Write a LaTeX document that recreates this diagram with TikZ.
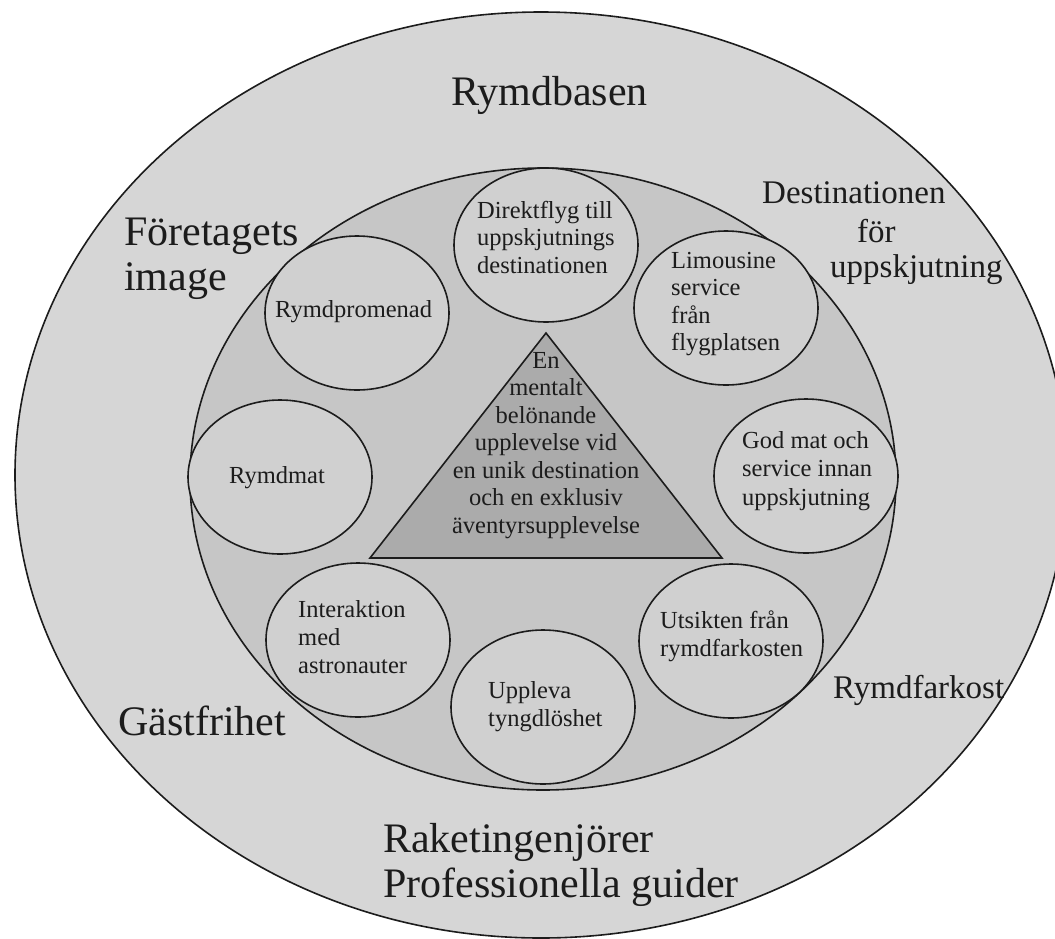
\documentclass[tikz,border=0pt]{standalone}
\usepackage{fontspec}
\setmainfont{Liberation Serif}
\usetikzlibrary{shapes.geometric}

% stacked lines, baseline of the box = baseline of the first line
\newcommand\leftlines[2]{\vtop{\baselineskip=#1\lineskiplimit=-100pt\halign{##\hfil\cr#2\crcr}}}
\newcommand\midlines[2]{\vtop{\baselineskip=#1\lineskiplimit=-100pt\halign{\hfil##\hfil\cr#2\crcr}}}

\definecolor{ringgray}{HTML}{D6D6D6}
\definecolor{coregray}{HTML}{C6C6C6}
\definecolor{bubgray}{HTML}{D0D0D0}
\definecolor{peakgray}{HTML}{ABABAB}
\definecolor{ink}{HTML}{1C1C1C}

\tikzset{
  outline/.style={draw=ink, line width=1.6pt},
  bub/.style={ellipse, outline, fill=bubgray, inner sep=0pt,
              minimum width=184pt, minimum height=154pt},
  biglabel/.style={inner sep=0pt, text=ink, font=\fontsize{42}{45}\selectfont, anchor=base west},
  midlabel/.style={inner sep=0pt, text=ink, font=\fontsize{33}{37}\selectfont, anchor=base west},
  smalllabel/.style={inner sep=0pt, text=ink, font=\fontsize{24.5}{27.5}\selectfont, anchor=base west},
}

\begin{document}
\begin{tikzpicture}[x=1pt, y=-1pt]
\useasboundingbox (0,0) rectangle (1055,938);
\clip (0,0) rectangle (1055,938);
\fill[white] (0,0) rectangle (1055,938);

% outer ring and inner core
\node[ellipse, outline, fill=ringgray, inner sep=0pt,
      minimum width=1052pt, minimum height=926pt] (outer) at (541,475) {};
\node[ellipse, outline, fill=coregray, inner sep=0pt,
      minimum width=706pt, minimum height=622pt] (core) at (543,479) {};

% central triangle
\coordinate (apex) at (546,333);
\coordinate (bl) at (370,558);
\coordinate (br) at (722,558);
\draw[outline, fill=peakgray, line join=miter] (apex) -- (br) -- (bl) -- cycle;

% ring of elements
\node[bub] (direkt)  at (546,245) {};
\node[bub] (limo)    at (726,308) {};
\node[bub] (promen)  at (357,313) {};
\node[bub] (mat)     at (280,477) {};
\node[bub] (godmat)  at (806,476) {};
\node[bub] (inter)   at (358,640) {};
\node[bub] (utsikt)  at (731,641) {};
\node[bub] (uppleva) at (543,707) {};

% texts inside the elements
\node[smalllabel] (tdirekt)  at (477,218) {\leftlines{27.5pt}{Direktflyg till\cr uppskjutnings\cr destinationen}};
\node[smalllabel] (tlimo)    at (671,268) {\leftlines{27.5pt}{Limousine\cr service\cr från\cr flygplatsen}};
\node[smalllabel] (tpromen)  at (275,317) {Rymdpromenad};
\node[smalllabel] (tmat)     at (229,483) {Rymdmat};
\node[smalllabel] (tgodmat)  at (742,448) {\leftlines{28.5pt}{God mat och\cr service innan\cr uppskjutning}};
\node[smalllabel] (tinter)   at (298,617) {\leftlines{28pt}{Interaktion\cr med\cr astronauter}};
\node[smalllabel] (tutsikt)  at (660,628) {\leftlines{28.5pt}{Utsikten från\cr rymdfarkosten}};
\node[smalllabel] (tuppleva) at (488,698) {\leftlines{28pt}{Uppleva\cr tyngdlöshet}};

% text of the triangle
\node[smalllabel, anchor=base] (tpeak) at (546,368) {\midlines{27.5pt}{En\cr mentalt\cr belönande\cr upplevelse vid\cr en unik destination\cr och en exklusiv\cr äventyrsupplevelse}};

% labels of the outer ring
\node[biglabel] (rymdbas) at (451,105) {Rymdbasen};
\node[biglabel] (foretag) at (124,245) {\leftlines{45pt}{Företagets\cr image}};
\node[biglabel] (gast)    at (118,735) {Gästfrihet};
\node[biglabel] (rakets)  at (383,852) {\leftlines{45pt}{Raketingenjörer\cr Professionella guider}};
\node[midlabel] (dest1)   at (762,203) {Destinationen};
\node[midlabel] (dest2)   at (857,242) {för};
\node[midlabel] (dest3)   at (830,277) {uppskjutning};
\node[midlabel] (farkost) at (833,698) {Rymdfarkost};
\end{tikzpicture}
\end{document}
